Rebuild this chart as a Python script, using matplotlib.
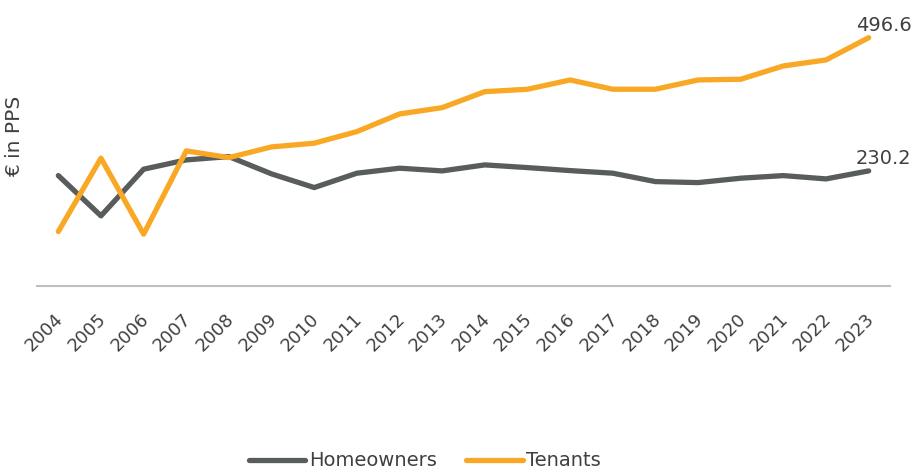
import matplotlib
matplotlib.use("Agg")
import matplotlib.pyplot as plt
import matplotlib.transforms as mtransforms

years = [str(y) for y in range(2004, 2024)]
homeowners = [220.8, 140.3, 233.6, 252.2, 258.8, 224.2, 196.9, 225.6, 235.6, 230.2,
              242.2, 236.8, 230.8, 225.6, 208.8, 206.8, 215.6, 220.8, 214.2, 230.2]
tenants = [108.9, 255.6, 103.7, 270.2, 256.8, 278.2, 285.6, 308.8, 344.1, 356.7,
           388.7, 393.5, 412.1, 393.5, 393.5, 412.1, 413.5, 440.1, 452.1, 496.6]
series_names = ["Homeowners", "Tenants"]
ylabel = "€ in PPS"

GRAY = "#585C5C"
ORANGE = "#F9A825"
TEXT = "#404040"

plt.rcParams['font.family'] = ['DejaVu Sans']

fig = plt.figure(figsize=(9.18, 4.75), dpi=100)
ax = fig.add_axes([37/918, 1 - 286/475, 853/918, 270/475])

x = list(range(len(years)))
ax.plot(x, homeowners, color=GRAY, lw=3.8, solid_capstyle='round', label=series_names[0])
ax.plot(x, tenants, color=ORANGE, lw=3.8, solid_capstyle='round', label=series_names[1])

ax.set_xlim(-0.5, len(years) - 0.5)
ax.set_ylim(0, 540)

for s in ['top', 'right', 'left']:
    ax.spines[s].set_visible(False)
ax.spines['bottom'].set_color('#BFBFBF')
ax.spines['bottom'].set_linewidth(1.5)
ax.set_yticks([])
ax.set_xticks(x)
ax.set_xticklabels(years, rotation=45, ha='right', va='top', rotation_mode='anchor',
                   fontsize=13, color=TEXT)
ax.tick_params(axis='x', length=0, pad=17)
offset = mtransforms.ScaledTranslation(-4/100, 0, fig.dpi_scale_trans)
for lbl in ax.get_xticklabels():
    lbl.set_transform(lbl.get_transform() + offset)

ax.text(x[-1] - 0.3, tenants[-1] + 6, f"{tenants[-1]:.1f}", fontsize=14, color=TEXT,
        ha='left', va='bottom')
ax.text(x[-1] - 0.3, homeowners[-1] + 6, f"{homeowners[-1]:.1f}", fontsize=14, color=TEXT,
        ha='left', va='bottom')

fig.text(15/918, 1 - 136/475, ylabel, rotation=90, fontsize=14.5, color=TEXT,
         ha='center', va='center')

leg = fig.legend(loc='center', bbox_to_anchor=(425/918, 1 - 461/475), ncol=2, frameon=False,
                 fontsize=14, handlelength=2.9, handletextpad=0.2, columnspacing=1.5)
for t in leg.get_texts():
    t.set_color(TEXT)

fig.savefig("out.png", dpi=100)
